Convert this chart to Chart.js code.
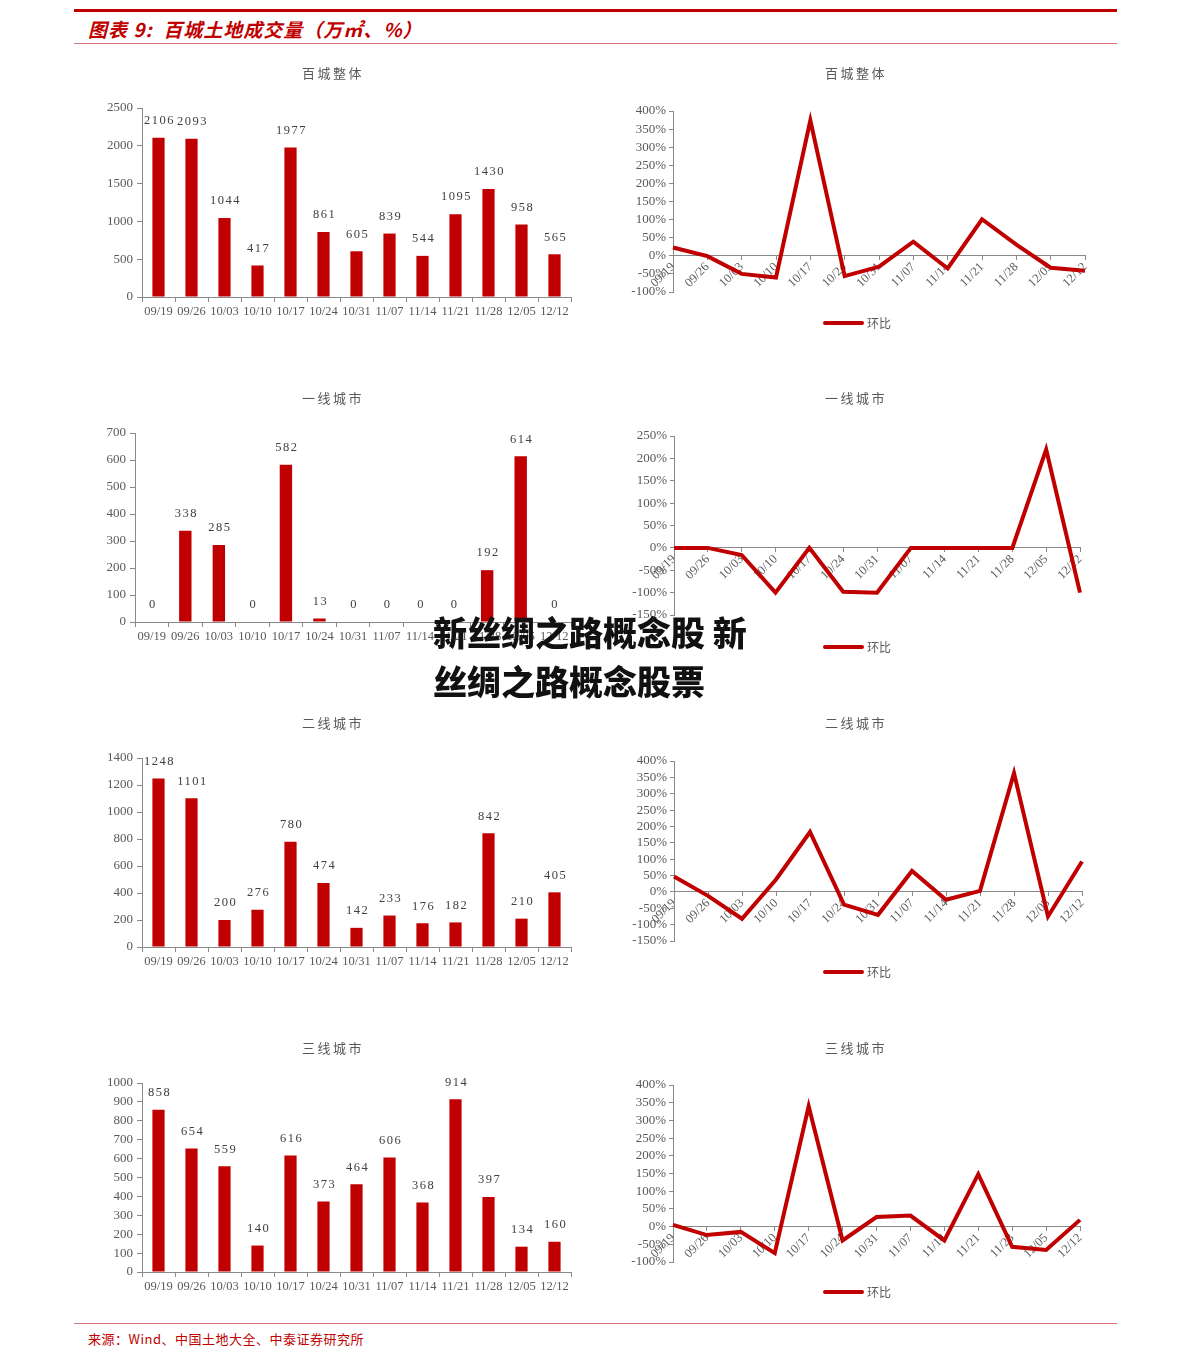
<!DOCTYPE html>
<html><head><meta charset="utf-8">
<script src="https://cdn.jsdelivr.net/npm/chart.js@4.4.0/dist/chart.umd.min.js"></script>
<style>
html,body{margin:0;padding:0;background:#fff;}
body{width:1191px;height:1367px;position:relative;overflow:hidden;font-family:"Noto Sans CJK SC",sans-serif;}
canvas{position:absolute;}
#topline{position:absolute;left:74px;top:9px;width:1043px;height:3px;background:#C00000;}
#subline{position:absolute;left:74px;top:43px;width:1043px;height:1px;background:#D9777B;}
#botline{position:absolute;left:74px;top:1323px;width:1043px;height:1px;background:#D9777B;}
#title{position:absolute;left:88px;top:15px;font-size:19px;font-weight:bold;font-style:italic;color:#C00000;white-space:nowrap;letter-spacing:1px;}
#source{position:absolute;left:88px;top:1329px;font-size:13px;color:#C00000;white-space:nowrap;letter-spacing:0.5px;}
#wm{position:absolute;left:433px;top:607px;font-size:34px;font-weight:900;color:#111;line-height:49px;white-space:nowrap;z-index:5;}
</style></head>
<body>
<div id="topline"></div>
<div id="title">图表 9:&nbsp; 百城土地成交量（万㎡、%）</div>
<div id="subline"></div>
<canvas id="b1" width="500" height="290" style="left:90px;top:55px"></canvas>
<canvas id="l1" width="500" height="290" style="left:600px;top:55px"></canvas>
<canvas id="b2" width="500" height="290" style="left:90px;top:380px"></canvas>
<canvas id="l2" width="500" height="290" style="left:600px;top:380px"></canvas>
<canvas id="b3" width="500" height="290" style="left:90px;top:705px"></canvas>
<canvas id="l3" width="500" height="290" style="left:600px;top:705px"></canvas>
<canvas id="b4" width="500" height="290" style="left:90px;top:1030px"></canvas>
<canvas id="l4" width="500" height="290" style="left:600px;top:1030px"></canvas>
<div id="botline"></div>
<div id="source">来源：Wind、中国土地大全、中泰证券研究所</div>
<div id="wm">新丝绸之路概念股 新<br>丝绸之路概念股票</div>
<script>
const dates = ['09/19','09/26','10/03','10/10','10/17','10/24','10/31','11/07','11/14','11/21','11/28','12/05','12/12'];
const totalVol = [2106,2093,1044,417,1977,861,605,839,544,1095,1430,958,565];
const totalQoq = [23,-1,-50,-60,374,-56,-30,39,-35,101,31,-33,-41];
const tier1Vol = [0,338,285,0,582,13,0,0,0,0,192,614,0];
const tier1Qoq = [0,0,-16,-100,0,-98,-100,0,0,0,0,220,-100];
const tier2Vol = [1248,1101,200,276,780,474,142,233,176,182,842,210,405];
const tier2Qoq = [47,-12,-82,38,183,-39,-70,64,-24,3,363,-75,93];
const tier3Vol = [858,654,559,140,616,373,464,606,368,914,397,134,160];
const tier3Qoq = [5,-24,-15,-75,340,-39,27,31,-39,148,-57,-66,19];
const titles = ['百城整体','一线城市','二线城市','三线城市'];
const legendLabel = '环比';

const RED = '#C00000', GREY = '#898989', TXT = '#595959';
const SERIF = '"Liberation Serif", "DejaVu Serif", serif';
Chart.defaults.devicePixelRatio = 1;
Chart.defaults.animation = false;

function titlePlugin(text, cx) {
  return {id:'ttl', afterDraw(chart){
    const c = chart.ctx; c.save();
    c.font = '13px "Noto Sans CJK SC"'; c.fillStyle = TXT;
    c.letterSpacing = '2.5px'; c.textAlign = 'center'; c.textBaseline = 'middle';
    c.fillText(text, cx, 18); c.restore();
  }};
}
const valuePlugin = {id:'vals', afterDatasetsDraw(chart){
  const c = chart.ctx; c.save();
  c.font = '12.5px ' + SERIF; c.fillStyle = '#404040'; c.letterSpacing = '1.5px';
  c.textAlign = 'center'; c.textBaseline = 'middle';
  const meta = chart.getDatasetMeta(0);
  meta.data.forEach((bar, i) => {
    c.fillText(String(chart.data.datasets[0].data[i]), bar.x + 1, bar.y - 17);
  });
  c.restore();
}};
function legendPlugin(y) {
  return {id:'lg', afterDraw(chart){
    const c = chart.ctx; c.save();
    c.strokeStyle = RED; c.lineWidth = 4; c.lineCap = 'round';
    c.beginPath(); c.moveTo(225, y); c.lineTo(262, y); c.stroke();
    c.font = '12px "Noto Sans CJK SC"'; c.fillStyle = TXT; c.textBaseline = 'middle';
    c.fillText(legendLabel, 267, y); c.restore();
  }};
}

function barChart(id, title, vals, max, step, yW) {
  new Chart(document.getElementById(id), {
    type:'bar',
    data:{labels:dates, datasets:[{data:vals, backgroundColor:RED, barPercentage:0.37, categoryPercentage:1}]},
    options:{
      responsive:false,
      layout:{padding:{left:0, right:19, top:53, bottom:18}},
      plugins:{legend:{display:false}, tooltip:{enabled:false}},
      scales:{
        x:{afterFit(s){s.height=30;},
           grid:{offset:true, drawOnChartArea:false, drawTicks:true, tickLength:5, color:GREY},
           border:{color:GREY},
           ticks:{font:{family:SERIF, size:12.5}, color:TXT, maxRotation:0, autoSkip:false, padding:2}},
        y:{min:0, max:max, afterFit(s){s.width=yW;},
           grid:{drawOnChartArea:false, drawTicks:true, tickLength:5, color:GREY},
           border:{color:GREY},
           ticks:{stepSize:step, autoSkip:false, font:{family:SERIF, size:13}, color:TXT, padding:4, callback:v=>String(v)}}
      }
    },
    plugins:[titlePlugin(title, 243), valuePlugin]
  });
}

function lineChart(id, title, vals, min, max, g) {
  new Chart(document.getElementById(id), {
    type:'line',
    data:{labels:dates, datasets:[{data:vals, borderColor:RED, borderWidth:4, pointRadius:0, tension:0, fill:false}]},
    options:{
      responsive:false,
      layout:{padding:{left:0, right:g.r, top:g.t, bottom:g.b}},
      plugins:{legend:{display:false}, tooltip:{enabled:false}},
      scales:{
        x:{position:{y:0}, offset:false,
           grid:{drawOnChartArea:false, drawTicks:true, tickLength:4, color:GREY},
           border:{color:GREY},
           ticks:{font:{family:SERIF, size:12.5}, color:TXT, minRotation:45, maxRotation:45, autoSkip:false, padding:0}},
        y:{min:min, max:max, afterFit(s){s.width=g.w;},
           grid:{drawOnChartArea:false, drawTicks:true, tickLength:4, color:GREY},
           border:{color:GREY},
           ticks:{stepSize:50, autoSkip:false, font:{family:SERIF, size:13}, color:TXT, padding:3, callback:v=>v+'%'}}
      }
    },
    plugins:[titlePlugin(title, 256), legendPlugin(g.lg)]
  });
}

barChart('b1', titles[0], totalVol, 2500, 500, 52);
barChart('b2', titles[1], tier1Vol, 700, 100, 45);
barChart('b3', titles[2], tier2Vol, 1400, 200, 52);
barChart('b4', titles[3], tier3Vol, 1000, 100, 52);

lineChart('l1', titles[0], totalQoq, -100, 400, {w:73, r:15, t:56, b:53, lg:268});
lineChart('l2', titles[1], tier1Qoq, -150, 250, {w:74, r:20, t:56, b:55, lg:267});
lineChart('l3', titles[2], tier2Qoq, -150, 400, {w:74, r:18, t:56, b:54, lg:267});
lineChart('l4', titles[3], tier3Qoq, -100, 400, {w:73, r:20, t:55, b:58, lg:262});
</script>
</body></html>
